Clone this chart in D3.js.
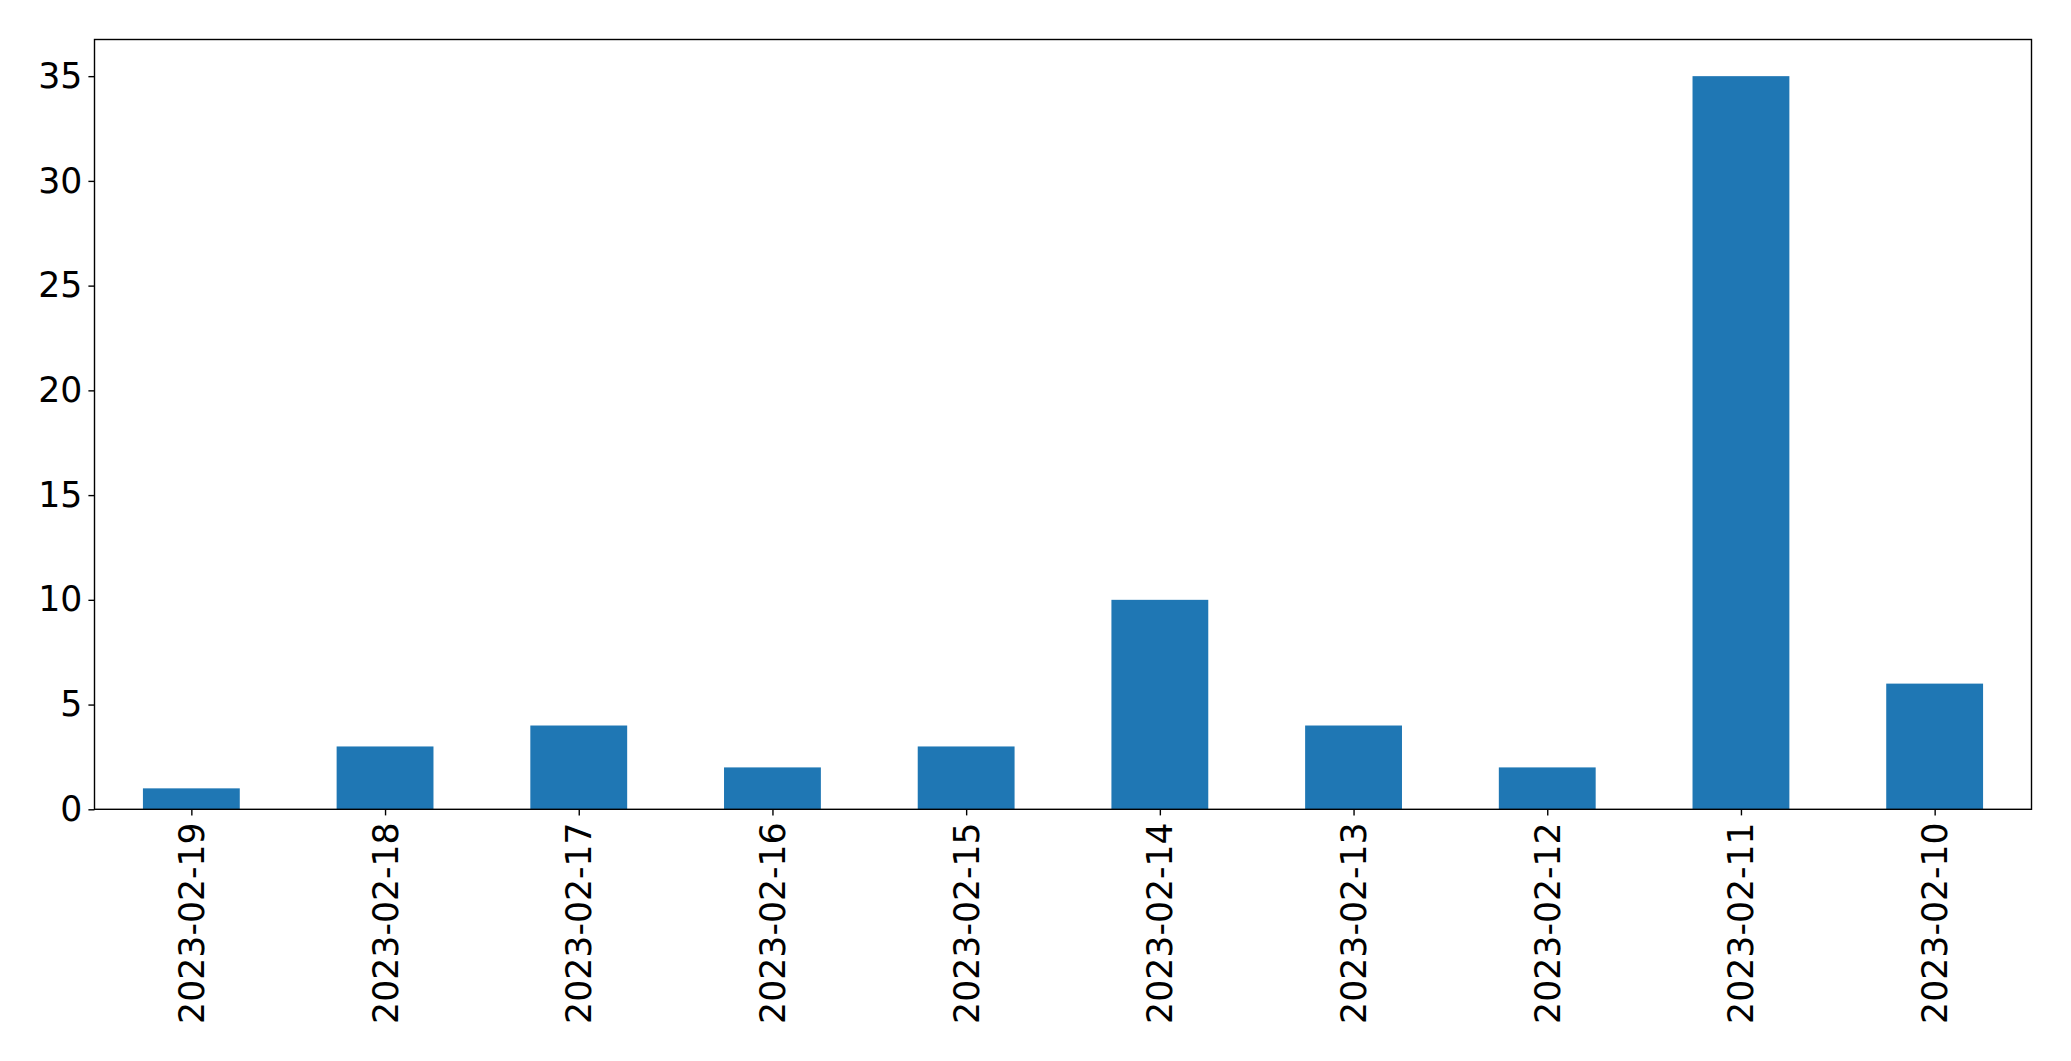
<!DOCTYPE html>
<html>
<head>
<meta charset="utf-8">
<script src="https://cdn.jsdelivr.net/npm/d3@7"></script>
<style>
html,body{margin:0;padding:0;background:#fff;}
svg{display:block;}
</style>
</head>
<body>
<svg id="chart" width="2071" height="1061"></svg>
<script>
const categories = ["2023-02-19","2023-02-18","2023-02-17","2023-02-16","2023-02-15","2023-02-14","2023-02-13","2023-02-12","2023-02-11","2023-02-10"];
const values = [1,3,4,2,3,10,4,2,35,6];
const yTicks = [0,5,10,15,20,25,30,35];

const W = 2071, H = 1061;
const m = {left: 94.5, right: 2031.5, top: 39.5, bottom: 809.3};
const fontSize = 34.7;
const svg = d3.select("#chart");

const x = d3.scaleLinear().domain([-0.5, categories.length - 0.5]).range([m.left, m.right]);
const y = d3.scaleLinear().domain([0, d3.max(values) * 1.05]).range([m.bottom, m.top]);

svg.append("g").selectAll("rect").data(values).join("rect")
  .attr("x", (d,i) => x(i - 0.25))
  .attr("width", (d,i) => x(i + 0.25) - x(i - 0.25))
  .attr("y", d => y(d))
  .attr("height", d => y(0) - y(d))
  .attr("fill", "#1f77b4");

const yAxis = d3.axisLeft(y).tickValues(yTicks).tickSize(6.1).tickPadding(6).tickFormat(d3.format("d"));
const gy = svg.append("g").attr("transform", `translate(${m.left},0)`).call(yAxis);
gy.select(".domain").remove();
gy.selectAll(".tick line").attr("stroke", "#000").attr("stroke-width", 1.4);
gy.selectAll(".tick text").attr("font-family", "DejaVu Sans").attr("font-size", fontSize).attr("fill", "#000");

const xAxis = d3.axisBottom(x).tickValues(d3.range(categories.length)).tickSize(6.1).tickPadding(0).tickFormat(i => categories[i]);
const gx = svg.append("g").attr("transform", `translate(0,${m.bottom})`).call(xAxis);
gx.select(".domain").remove();
gx.selectAll(".tick line").attr("stroke", "#000").attr("stroke-width", 1.4);
gx.selectAll(".tick text")
  .attr("font-family", "DejaVu Sans").attr("font-size", fontSize).attr("fill", "#000")
  .attr("text-anchor", "end")
  .attr("dy", null)
  .attr("dominant-baseline", "central")
  .attr("transform", "translate(0,13) rotate(-90)")
  .attr("x", 0).attr("y", 0);

svg.append("rect")
  .attr("x", m.left).attr("y", m.top)
  .attr("width", m.right - m.left).attr("height", m.bottom - m.top)
  .attr("fill", "none").attr("stroke", "#000").attr("stroke-width", 1.4);
</script>
</body>
</html>
